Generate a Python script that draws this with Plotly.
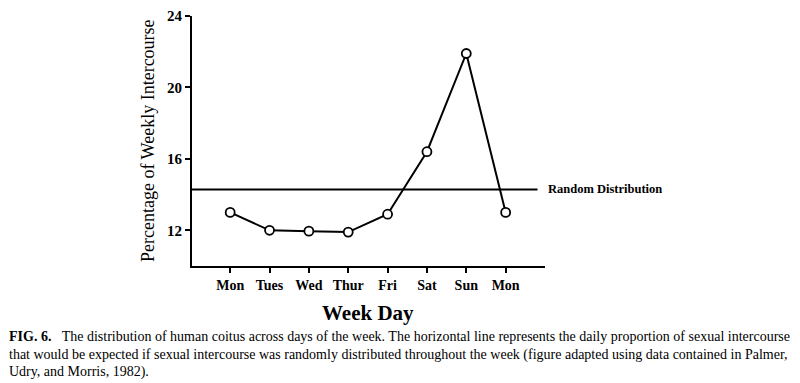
import plotly.graph_objects as go

days = ["Mon", "Tues", "Wed", "Thur", "Fri", "Sat", "Sun", "Mon"]
pct = [13.0, 12.0, 11.95, 11.9, 12.9, 16.4, 21.9, 13.0]
random_level = 100 / 7
random_x = [-0.97, 7.81]
y_ticks = [12, 16, 20, 24]

x_pos = list(range(len(days)))

fig = go.Figure()
fig.add_trace(go.Scatter(
    x=random_x, y=[random_level, random_level], mode="lines",
    line=dict(color="black", width=2), hoverinfo="skip", showlegend=False))
fig.add_trace(go.Scatter(
    x=x_pos, y=pct, mode="lines+markers",
    line=dict(color="black", width=2),
    marker=dict(symbol="circle", size=9, color="white",
                line=dict(color="black", width=1.8)),
    showlegend=False))

serif = "Liberation Serif"
fig.update_layout(
    width=800, height=383,
    margin=dict(l=192, r=255, t=16, b=117, autoexpand=False),
    paper_bgcolor="white", plot_bgcolor="white",
    font=dict(family=serif, color="black"),
    xaxis=dict(range=[-0.97, 8.0], tickvals=x_pos, ticktext=days,
               showgrid=False, zeroline=False, showline=True,
               linecolor="black", linewidth=2, ticks="outside",
               ticklen=5, tickwidth=1.5, tickcolor="black",
               tickfont=dict(family=serif, size=14, weight="bold"),
               ticklabelstandoff=0, automargin=False),
    yaxis=dict(range=[10, 24], tickvals=y_ticks,
               showgrid=False, zeroline=False, showline=True,
               linecolor="black", linewidth=2, ticks="outside",
               ticklen=5, tickwidth=1.5, tickcolor="black",
               tickfont=dict(family=serif, size=15, weight="bold"),
               automargin=False),
)

def px_x(p):
    return (p - 192) / 353

def px_y(p):
    return (266 - p) / 250

fig.add_annotation(x=px_x(148), y=px_y(141), xref="paper", yref="paper",
                   xanchor="center", yanchor="middle",
                   text="Percentage of Weekly Intercourse", textangle=-90,
                   showarrow=False, font=dict(family=serif, size=18))
fig.add_annotation(x=px_x(368), y=px_y(313), xref="paper", yref="paper",
                   xanchor="center", yanchor="middle",
                   text="<b>Week Day</b>", showarrow=False,
                   font=dict(family=serif, size=21))
fig.add_annotation(x=random_x[1], y=random_level, xref="x", yref="y",
                   xanchor="left", yanchor="middle", xshift=8,
                   text="<b>Random Distribution</b>", showarrow=False,
                   font=dict(family=serif, size=12.5))

captions = [
    "<b>FIG. 6.</b>   The distribution of human coitus across days of the week. The horizontal line represents the daily proportion of sexual intercourse",
    "that would be expected if sexual intercourse was randomly distributed throughout the week (figure adapted using data contained in Palmer,",
    "Udry, and Morris, 1982).",
]
for text, py in zip(captions, [336, 355, 372]):
    fig.add_annotation(x=px_x(7), y=px_y(py), xref="paper", yref="paper",
                       xanchor="left", yanchor="middle", text=text,
                       showarrow=False, font=dict(family=serif, size=14))

fig.write_html("out.html", config={"displayModeBar": False},
               post_script="document.body.style.margin='0';")
